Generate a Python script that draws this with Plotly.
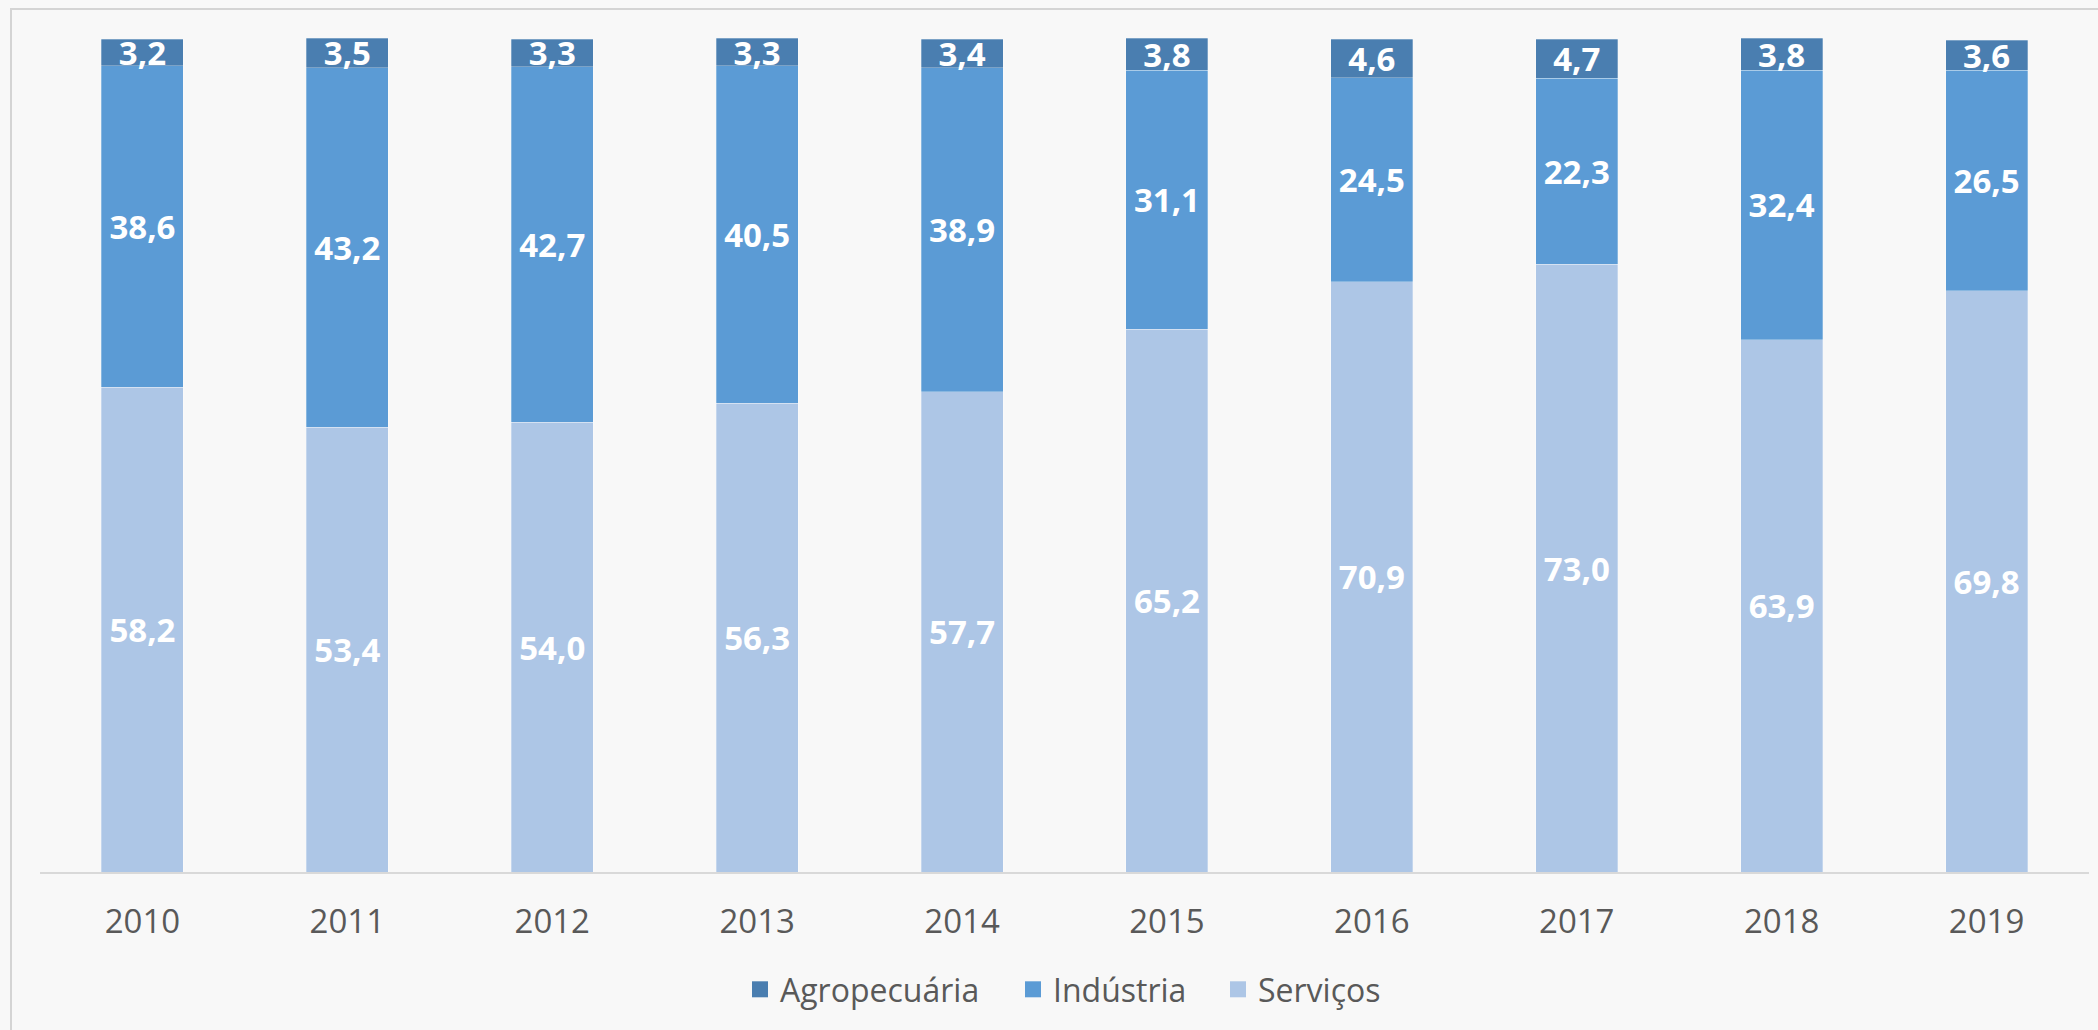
import plotly.graph_objects as go

years = ["2010", "2011", "2012", "2013", "2014", "2015", "2016", "2017", "2018", "2019"]
servicos = [58.2, 53.4, 54.0, 56.3, 57.7, 65.2, 70.9, 73.0, 63.9, 69.8]
industria = [38.6, 43.2, 42.7, 40.5, 38.9, 31.1, 24.5, 22.3, 32.4, 26.5]
agropecuaria = [3.2, 3.5, 3.3, 3.3, 3.4, 3.8, 4.6, 4.7, 3.8, 3.6]

series = [
    ("Serviços", servicos, "#ADC6E6"),
    ("Indústria", industria, "#5B9BD5"),
    ("Agropecuária", agropecuaria, "#4A7EB0"),
]

FONT = "Open Sans, Noto Sans, sans-serif"

W, H = 2098, 1030
L, R, T, B = 40, 9, 38, 158
pw, ph = W - L - R, H - T - B

# legend symbol centre (px) for each series
legend_px = {"Agropecuária": 765, "Indústria": 1038, "Serviços": 1243}
legend_ids = {"Agropecuária": "legend", "Indústria": "legend2", "Serviços": "legend3"}

fig = go.Figure()
for name, vals, color in series:
    fig.add_trace(go.Bar(
        x=years, y=vals, name=name,
        marker=dict(color=color, line=dict(width=0.8, color="rgba(255,255,255,0.35)")),
        texttemplate="%{y:.1f}",
        textposition="inside",
        insidetextanchor="middle",
        constraintext="none",
        textfont=dict(family=FONT, size=33, color="white", weight="bold"),
        cliponaxis=False,
        hoverinfo="skip",
        showlegend=False,
    ))
# legend keys
for name, vals, color in series:
    fig.add_trace(go.Scatter(
        x=[None], y=[None], mode="markers", name=name,
        marker=dict(symbol="square", size=21, color=color),
        legend=legend_ids[name], showlegend=True, hoverinfo="skip",
    ))

legend_y = -(989.5 - (H - B)) / ph
legend_common = dict(
    orientation="h", xanchor="left", y=legend_y, yanchor="middle",
    font=dict(family=FONT, size=32, color="#595959"),
    bgcolor="rgba(0,0,0,0)", itemsizing="trace",
)
legends = {}
for name, lid in legend_ids.items():
    legends[lid] = dict(legend_common, x=(legend_px[name] - 25 - L) / pw)

fig.update_layout(
    width=W, height=H,
    barmode="stack", bargap=0.6,
    separators=",.",
    margin=dict(l=L, r=R, t=T, b=B),
    paper_bgcolor="#F8F8F8", plot_bgcolor="#F8F8F8",
    showlegend=True,
    xaxis=dict(
        showline=True, linecolor="#D9D9D9", linewidth=1.5,
        showgrid=False, zeroline=False, ticks="",
        ticklabelstandoff=20, automargin=False,
        tickfont=dict(family=FONT, size=33, color="#595959"),
    ),
    yaxis=dict(range=[0, 100.15], visible=False, showgrid=False, zeroline=False,
               automargin=False),
    shapes=[dict(
        type="rect", xref="paper", yref="paper",
        x0=(11 - L) / pw, x1=1.2,
        y0=-0.5, y1=((H - B) - 9) / ph,
        line=dict(color="#D4D4D4", width=2), fillcolor="rgba(0,0,0,0)",
        layer="below",
    )],
    **legends,
)

fig.write_html(
    "out.html",
    config={"displayModeBar": False},
    post_script="document.body.style.margin='0';document.body.style.background='#F8F8F8';",
)
